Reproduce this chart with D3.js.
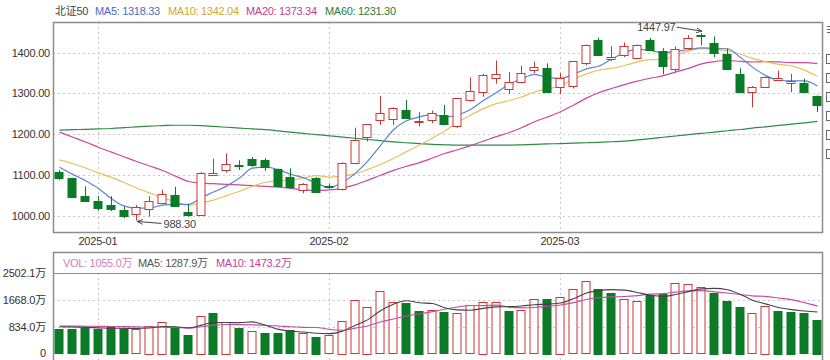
<!DOCTYPE html>
<html>
<head>
<meta charset="utf-8">
<script src="https://cdn.jsdelivr.net/npm/d3@7"></script>
<style>
  body { margin: 0; background: #fff; }
  svg { font-family: "Liberation Sans", Arial, "Noto Sans CJK SC", sans-serif; }
</style>
</head>
<body>
<svg width="830" height="360"></svg>
<script>
const dates = [
  "2024-12-27", "2024-12-30", "2024-12-31",
  "2025-01-02", "2025-01-03", "2025-01-06", "2025-01-07", "2025-01-08", "2025-01-09", "2025-01-10",
  "2025-01-13", "2025-01-14", "2025-01-15", "2025-01-16", "2025-01-17", "2025-01-20", "2025-01-21",
  "2025-01-22", "2025-01-23", "2025-01-24", "2025-01-27",
  "2025-02-05", "2025-02-06", "2025-02-07", "2025-02-10", "2025-02-11", "2025-02-12", "2025-02-13",
  "2025-02-14", "2025-02-17", "2025-02-18", "2025-02-19", "2025-02-20", "2025-02-21", "2025-02-24",
  "2025-02-25", "2025-02-26", "2025-02-27", "2025-02-28",
  "2025-03-03", "2025-03-04", "2025-03-05", "2025-03-06", "2025-03-07", "2025-03-10", "2025-03-11",
  "2025-03-12", "2025-03-13", "2025-03-14", "2025-03-17", "2025-03-18", "2025-03-19", "2025-03-20",
  "2025-03-21", "2025-03-24", "2025-03-25", "2025-03-26", "2025-03-27", "2025-03-28", "2025-03-31"
];

const opens = [1107, 1092, 1049, 1035, 1027, 1015, 1004, 1017, 1031, 1051, 1010, 1002, 1100, 1112, 1124,
  1139, 1136, 1114, 1096, 1065, 1092, 1074, 1067, 1129, 1192, 1234, 1237, 1260, 1230, 1235, 1246, 1219,
  1285, 1304, 1338, 1311, 1329, 1357, 1362, 1316, 1318, 1374, 1432, 1385, 1394, 1386, 1431, 1404, 1362,
  1410, 1444, 1423, 1398, 1347, 1304, 1316, 1335, 1327, 1326, 1294];
const highs = [1112, 1093, 1072, 1048, 1048, 1022, 1026, 1048, 1064, 1071, 1028, 1107, 1140, 1153, 1136,
  1144, 1141, 1116, 1116, 1080, 1095, 1078, 1131, 1216, 1225, 1294, 1266, 1284, 1254, 1258, 1272, 1289,
  1339, 1348, 1381, 1352, 1368, 1378, 1374, 1350, 1380, 1420, 1437, 1416, 1425, 1420, 1436, 1411, 1415,
  1443, 1447.97, 1440, 1410, 1362, 1318, 1341, 1356, 1348, 1336, 1295];
const lows = [1088, 1043, 1034, 1012, 1011, 994, 988.3, 998, 1029, 1022, 998, 1000, 1099, 1106, 1112,
  1120, 1110, 1070, 1065, 1055, 1056, 1066, 1062, 1127, 1182, 1223, 1223, 1239, 1219, 1227, 1222, 1215,
  1280, 1292, 1324, 1299, 1325, 1350, 1302, 1298, 1312, 1369, 1392, 1379, 1389, 1384, 1406, 1347, 1353,
  1408, 1418, 1389, 1361, 1303, 1266, 1314, 1333, 1303, 1303, 1254];
const closes = [1092, 1045, 1037, 1018, 1016, 1001, 1022, 1037, 1054, 1024, 1002, 1106, 1104, 1127, 1123,
  1124, 1119, 1072, 1071, 1079, 1057, 1071, 1130, 1185, 1224, 1251, 1265, 1240, 1233, 1251, 1223, 1288,
  1307, 1345, 1347, 1327, 1351, 1364, 1304, 1337, 1379, 1418, 1396, 1390, 1417, 1418, 1407, 1366, 1410,
  1435, 1442, 1398, 1362, 1304, 1317, 1340, 1339, 1331, 1304, 1271];
const priorClose = 1110;

const ma5 = [1119, 1102, 1086, 1067, 1041.6, 1023.4, 1018.8, 1018.8, 1026.0, 1027.6, 1027.8, 1044.6,
  1058.0, 1072.6, 1092.4, 1116.8, 1119.4, 1113.0, 1101.8, 1093.0, 1079.6, 1069.8, 1081.6, 1104.4, 1133.4,
  1172.2, 1211.0, 1233.0, 1242.6, 1248.0, 1242.4, 1247.0, 1260.4, 1282.8, 1302.2, 1323.0, 1335.6, 1347.0,
  1338.8, 1337.0, 1347.0, 1360.4, 1366.8, 1384.0, 1400.0, 1408.0, 1405.6, 1399.6, 1403.6, 1407.2, 1412.0,
  1410.4, 1409.6, 1388.2, 1364.6, 1344.2, 1332.4, 1331.0, 1331.0, 1318.33];
const ma10 = [1137, 1128, 1117, 1105, 1094, 1081, 1068, 1056, 1044, 1034.6, 1025.6, 1031.7, 1038.4,
  1049.3, 1060.0, 1072.3, 1082.0, 1085.5, 1087.2, 1092.7, 1098.2, 1094.7, 1097.3, 1103.1, 1113.1, 1125.8,
  1140.4, 1157.2, 1173.4, 1190.7, 1207.3, 1229.0, 1246.7, 1262.7, 1275.0, 1282.6, 1291.2, 1303.6, 1310.7,
  1319.3, 1335.0, 1348.0, 1356.9, 1361.4, 1368.5, 1377.6, 1383.2, 1383.4, 1394.0, 1403.8, 1410.1, 1408.1,
  1404.7, 1396.1, 1385.9, 1378.1, 1371.3, 1367.8, 1357.2, 1342.04];
const ma20 = [1205, 1193, 1181, 1168, 1156, 1144, 1133, 1122, 1111, 1097, 1084, 1080, 1078.5, 1077,
  1075.5, 1074, 1072, 1070, 1067, 1063.7, 1061.9, 1063.2, 1067.8, 1076.2, 1086.6, 1099.1, 1111.2, 1121.4,
  1130.3, 1141.7, 1152.7, 1161.8, 1172.0, 1182.9, 1194.1, 1204.3, 1215.9, 1230.5, 1242.2, 1255.1, 1271.2,
  1288.5, 1301.8, 1312.1, 1321.7, 1330.2, 1337.3, 1343.6, 1352.4, 1361.6, 1372.6, 1378.1, 1380.8, 1378.7,
  1377.2, 1377.9, 1377.3, 1375.6, 1375.6, 1373.34];
const ma60 = [1210, 1211, 1212, 1213, 1214, 1216, 1218, 1220, 1221, 1222, 1222, 1221, 1219, 1217, 1215,
  1213, 1211, 1208, 1205, 1202, 1199, 1196, 1193, 1190, 1187, 1184, 1181, 1179, 1177, 1175, 1174, 1173,
  1173, 1173, 1173, 1173, 1174, 1175, 1176, 1177, 1178, 1179, 1180, 1181.5, 1183, 1186, 1189, 1192.5,
  1195.5, 1199, 1202, 1205, 1208.5, 1211.5, 1215, 1218, 1221.5, 1224.5, 1228, 1231.3];

// 成交量（万）
const volumes = [759, 759, 800, 759, 831, 750, 759, 862, 987, 800, 572, 1175, 1269, 987, 781, 697, 644,
  624, 728, 624, 520, 572, 1019, 1655, 1457, 1947, 1592, 1561, 1332, 1353, 1290, 1249, 1509, 1613, 1592,
  1332, 1353, 1696, 1707, 1769, 1998, 2258, 2019, 1894, 1696, 1634, 1821, 1842, 2186, 2155, 2061, 1894,
  1634, 1457, 1249, 1488, 1332, 1300, 1249, 1055];
const volMa5 = [831, 820, 810, 795, 781.6, 779.8, 779.8, 792.2, 837.8, 831.6, 796.0, 879.2, 960.6, 960.6,
  956.8, 981.8, 875.6, 746.6, 694.8, 663.4, 628.0, 613.6, 692.6, 878.0, 1044.6, 1330.0, 1534.0, 1642.4,
  1577.8, 1557.0, 1425.6, 1357.0, 1346.6, 1402.8, 1450.6, 1459.0, 1479.8, 1517.2, 1536.0, 1571.4, 1704.6,
  1885.6, 1950.2, 1987.6, 1973.0, 1900.2, 1812.8, 1777.4, 1835.6, 1927.4, 2012.8, 2027.4, 1985.8, 1840.0,
  1658.6, 1544.0, 1431.6, 1364.8, 1323.2, 1287.9];
const volMa10 = [853, 850, 846, 842, 838, 834, 828, 820, 812, 806.6, 787.9, 829.5, 876.4, 899.2, 894.2,
  888.9, 877.4, 853.6, 827.7, 810.1, 804.9, 744.6, 719.6, 786.4, 854.0, 979.0, 1073.8, 1167.5, 1227.9,
  1300.8, 1377.8, 1445.5, 1494.5, 1490.3, 1503.8, 1442.3, 1418.4, 1431.9, 1469.4, 1511.0, 1581.8, 1682.7,
  1733.7, 1761.8, 1772.2, 1802.4, 1849.2, 1863.8, 1911.7, 1950.3, 1956.6, 1920.2, 1881.7, 1838.0, 1793.3,
  1778.7, 1729.8, 1675.6, 1581.9, 1473.2];

const priceTicks = [1000, 1100, 1200, 1300, 1400];
const volTicks = [0, 834.0, 1668.0, 2502.1];
const monthStarts = ["2025-01-02", "2025-02-05", "2025-03-03"];

const RED = '#c93636', GREEN = '#0b7b27';
const FONT = '"Liberation Sans", Arial, "Noto Sans CJK SC", sans-serif';

const svg = d3.select('svg');
const left = 53, right = 823;

const x = d3.scaleBand().domain(dates).range([left, right]).paddingInner(0.3).paddingOuter(0.15);
const cx = d => Math.round(x(d) + x.bandwidth() / 2) + 0.5;
const y = d3.scaleLinear().domain([960, 1475.3]).range([232, 22]);
const yv = d3.scaleLinear().domain([0, 2502.1]).range([353.3, 273.2]);

const grid = svg.append('g').attr('stroke', '#c8c8c8').attr('stroke-dasharray', '2,3');

// grid lines
grid.selectAll('.hp').data(priceTicks).join('line')
  .attr('x1', left).attr('x2', right)
  .attr('y1', d => Math.round(y(d)) + 0.5).attr('y2', d => Math.round(y(d)) + 0.5);
grid.selectAll('.hv').data([834.0, 1668.0]).join('line')
  .attr('x1', left).attr('x2', right)
  .attr('y1', d => Math.round(yv(d)) + 0.5).attr('y2', d => Math.round(yv(d)) + 0.5);
monthStarts.forEach(m => {
  grid.append('line').attr('x1', cx(m)).attr('x2', cx(m)).attr('y1', 22).attr('y2', 232);
  grid.append('line').attr('x1', cx(m)).attr('x2', cx(m)).attr('y1', 273).attr('y2', 360);
});

// frames
svg.append('rect').attr('x', 53.5).attr('y', 22.5).attr('width', 769).attr('height', 210)
  .attr('fill', 'none').attr('stroke', '#8c8c8c').attr('stroke-width', 1.5);
svg.append('rect').attr('x', 53.5).attr('y', 252.5).attr('width', 769).attr('height', 120)
  .attr('fill', 'none').attr('stroke', '#8c8c8c').attr('stroke-width', 1.5);
svg.append('line').attr('x1', 53).attr('x2', 823).attr('y1', 273.5).attr('y2', 273.5)
  .attr('stroke', '#8c8c8c');

// axes
const yAxis = svg.append('g').attr('transform', `translate(${left},0)`)
  .call(d3.axisLeft(y).tickValues(priceTicks).tickFormat(d3.format('.2f')).tickSize(0).tickPadding(3));
const vAxis = svg.append('g').attr('transform', `translate(${left},0)`)
  .call(d3.axisLeft(yv).tickValues(volTicks).tickSize(0).tickPadding(7)
    .tickFormat(d => d === 0 ? '0' : d.toFixed(1) + '万'));
const xAxis = svg.append('g').attr('transform', 'translate(0,232)')
  .call(d3.axisBottom(x).tickValues(monthStarts).tickSize(0).tickPadding(5)
    .tickFormat(d => d.slice(0, 7)));
[yAxis, vAxis, xAxis].forEach(a => {
  a.select('.domain').remove();
  a.selectAll('text').attr('fill', '#333').attr('font-size', 11)
    .attr('letter-spacing', -0.2).attr('font-family', FONT);
});

// MA lines
const maLine = d3.line().x((d, i) => cx(dates[i])).y(d => y(d)).curve(d3.curveMonotoneX);
[[ma60, '#2f8a4a'], [ma20, '#d0479b'], [ma10, '#e2c35c'], [ma5, '#5b83d6']].forEach(([arr, c]) => {
  svg.append('path').attr('d', maLine(arr)).attr('fill', 'none').attr('stroke', c).attr('stroke-width', 1.2);
});

// candles
const bw = Math.round(x.bandwidth());
const candles = svg.append('g').selectAll('g').data(dates).join('g');
candles.each(function(d, i) {
  const g = d3.select(this);
  const up = closes[i] >= opens[i];
  const c = up ? RED : GREEN;
  const xc = cx(d);
  const top = y(Math.max(opens[i], closes[i]));
  const bot = y(Math.min(opens[i], closes[i]));
  g.append('line').attr('x1', xc).attr('x2', xc)
    .attr('y1', y(highs[i])).attr('y2', y(lows[i])).attr('stroke', c);
  g.append('rect')
    .attr('x', xc - bw / 2).attr('width', bw - 1)
    .attr('y', Math.round(top) + 0.5).attr('height', Math.max(1, Math.round(bot - top)))
    .attr('fill', up ? '#fff' : c).attr('stroke', c);
});

// volume bars
svg.append('g').selectAll('rect').data(dates).join('rect')
  .each(function(d, i) {
    const prev = i === 0 ? priorClose : closes[i - 1];
    const up = closes[i] > prev;
    const c = up ? RED : GREEN;
    d3.select(this)
      .attr('x', cx(d) - bw / 2).attr('width', bw - 1)
      .attr('y', Math.round(yv(volumes[i])) + 0.5)
      .attr('height', Math.round(yv(0) - yv(volumes[i])))
      .attr('fill', up ? '#fff' : c).attr('stroke', c);
  });

const vLine = d3.line().x((d, i) => cx(dates[i])).y(d => yv(d)).curve(d3.curveMonotoneX);
[[volMa10, '#c84aa6'], [volMa5, '#444']].forEach(([arr, c]) => {
  svg.append('path').attr('d', vLine(arr)).attr('fill', 'none').attr('stroke', c).attr('stroke-width', 1.1);
});

// annotations
const defs = svg.append('defs');
defs.append('marker').attr('id', 'arr').attr('viewBox', '0 0 10 10').attr('refX', 9).attr('refY', 5)
  .attr('markerWidth', 6).attr('markerHeight', 6).attr('orient', 'auto')
  .append('path').attr('d', 'M0,1L10,5L0,9').attr('fill', 'none').attr('stroke', '#444').attr('stroke-width', 1.5);

const lowI = lows.indexOf(d3.min(lows));
const highI = highs.indexOf(d3.max(highs));
const lx = cx(dates[lowI]), ly = y(lows[lowI]);
svg.append('line').attr('x1', lx + 25).attr('y1', ly + 3).attr('x2', lx + 1).attr('y2', ly + 1)
  .attr('stroke', '#444').attr('marker-end', 'url(#arr)');
svg.append('text').attr('x', lx + 27).attr('y', ly + 8).attr('font-size', 11).attr('fill', '#444')
  .attr('letter-spacing', -0.2).text(d3.format('.2f')(lows[lowI]));
const hx = cx(dates[highI]), hy = y(highs[highI]);
svg.append('line').attr('x1', hx - 25).attr('y1', hy - 6).attr('x2', hx).attr('y2', hy - 2)
  .attr('stroke', '#444').attr('marker-end', 'url(#arr)');
svg.append('text').attr('x', hx - 26).attr('y', hy - 2).attr('text-anchor', 'end')
  .attr('font-size', 11).attr('fill', '#444').attr('letter-spacing', -0.2)
  .text(d3.format('.2f')(highs[highI]));

// legends
const last = dates.length - 1;
const legend = [
  ['北证50', '#444', 55],
  ['MA5: ' + ma5[last].toFixed(2), '#4b6cc1', 95],
  ['MA10: ' + ma10[last].toFixed(2), '#d6a62a', 168],
  ['MA20: ' + ma20[last].toFixed(2), '#c23f8e', 246],
  ['MA60: ' + ma60[last].toFixed(2), '#2c7c3c', 325]
];
svg.append('g').selectAll('text').data(legend).join('text')
  .attr('x', d => d[2]).attr('y', 15).attr('font-size', 11).attr('letter-spacing', -0.3)
  .attr('fill', d => d[1]).text(d => d[0]);

const vLegend = [
  ['VOL: ' + volumes[last].toFixed(1) + '万', '#d37cc0', 63],
  ['MA5: ' + volMa5[last].toFixed(1) + '万', '#555', 138],
  ['MA10: ' + volMa10[last].toFixed(1) + '万', '#c23f9a', 216]
];
svg.append('g').selectAll('text').data(vLegend).join('text')
  .attr('x', d => d[2]).attr('y', 267).attr('font-size', 11).attr('letter-spacing', -0.3)
  .attr('fill', d => d[1]).text(d => d[0]);

// right-side tool icons (cut off at edge)
const icons = svg.append('g').attr('stroke', '#666').attr('fill', 'none');
[26, 29, 32].forEach(v => icons.append('line').attr('x1', 827).attr('x2', 831).attr('y1', v + 0.5).attr('y2', v + 0.5));
[54, 73, 92, 111, 130, 149].forEach(v => icons.append('rect').attr('x', 826.5).attr('y', v + 0.5).attr('width', 8).attr('height', 9));
</script>
</body>
</html>
